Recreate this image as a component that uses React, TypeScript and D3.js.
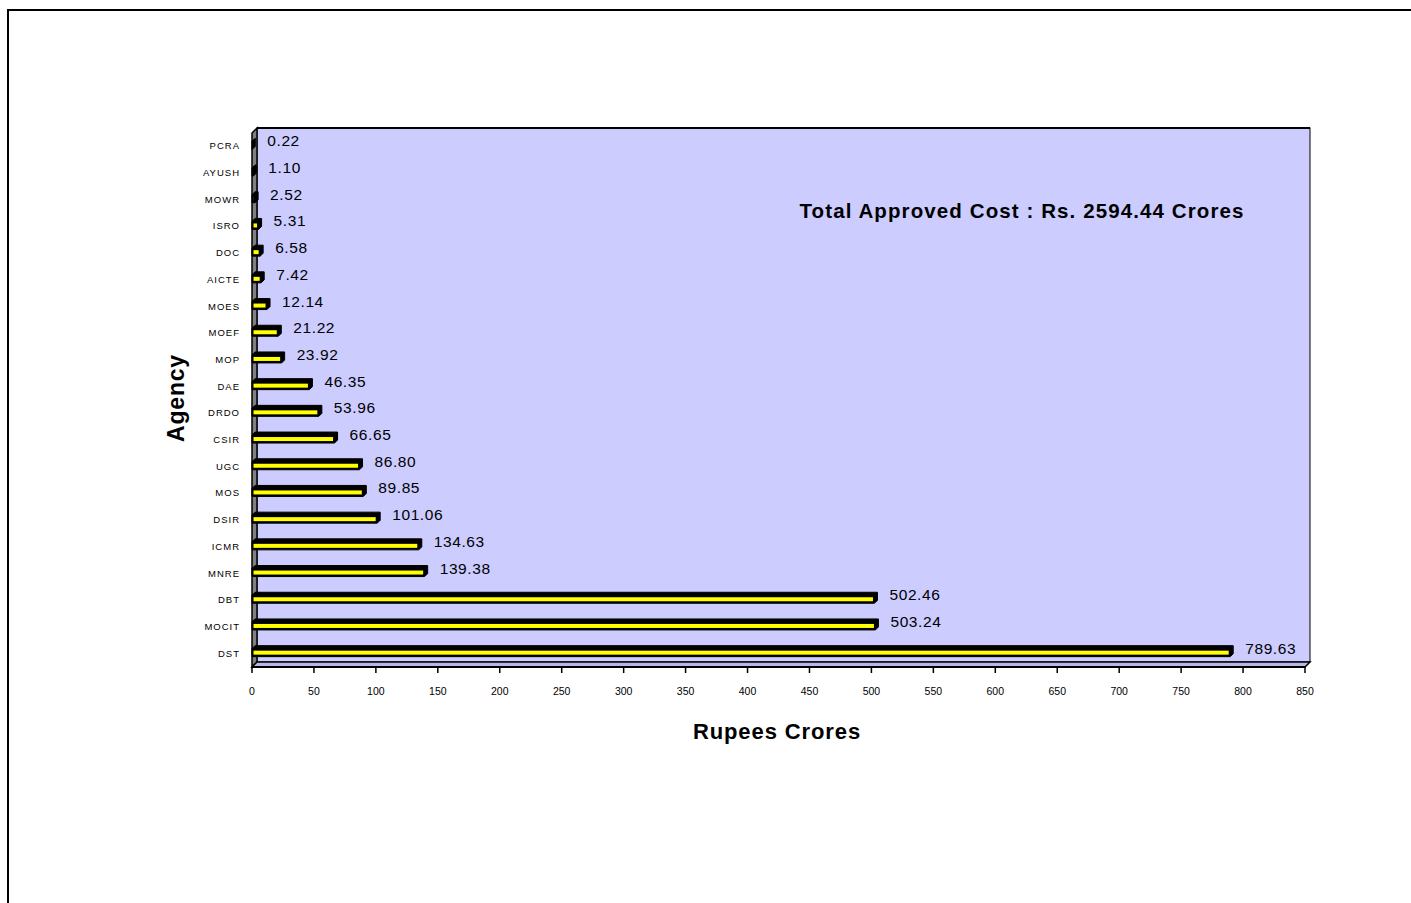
import React from "react";
import * as d3 from "d3";

const categories = ["PCRA","AYUSH","MOWR","ISRO","DOC","AICTE","MOES","MOEF","MOP","DAE","DRDO","CSIR","UGC","MOS","DSIR","ICMR","MNRE","DBT","MOCIT","DST"];
const values = [0.22,1.10,2.52,5.31,6.58,7.42,12.14,21.22,23.92,46.35,53.96,66.65,86.80,89.85,101.06,134.63,139.38,502.46,503.24,789.63];
const valueLabels = ["0.22","1.10","2.52","5.31","6.58","7.42","12.14","21.22","23.92","46.35","53.96","66.65","86.80","89.85","101.06","134.63","139.38","502.46","503.24","789.63"];
const xTicks = d3.range(0, 851, 50);
const title = "Total Approved Cost : Rs. 2594.44 Crores";
const xTitle = "Rupees Crores";
const yTitle = "Agency";

export default function App() {
  const W = 1411, H = 903;
  const x0 = 252, x1 = 1305, yTop = 133, yBot = 667, dep = 5;
  const x = d3.scaleLinear().domain([0, 850]).range([x0, x1]);
  const y = d3.scaleBand<string>().domain(categories).range([yTop - 1, yBot - 1]);
  const font = "Arial, 'Liberation Sans', sans-serif";
  return (
    <svg width={W} height={H} style={{ position: "absolute", left: 0, top: 0, background: "#fff" }} fontFamily={font}>
      {/* page frame */}
      <path d={`M8,${H} L8,10 L${W},10`} fill="none" stroke="#000" strokeWidth={2} />
      {/* back wall */}
      <rect x={x0 + dep} y={yTop - dep} width={x1 - x0} height={yBot - yTop} fill="#CCCCFF" stroke="#000" strokeWidth={1} />
      <line x1={x0 + dep} x2={x1 + dep} y1={yTop - dep} y2={yTop - dep} stroke="#000" strokeWidth={2} />
      {/* left wall */}
      <polygon points={`${x0},${yTop} ${x0 + dep},${yTop - dep} ${x0 + dep},${yBot - dep} ${x0},${yBot}`} fill="#808080" stroke="#000" strokeWidth={1.5} />
      {/* floor */}
      <polygon points={`${x0},${yBot} ${x0 + dep},${yBot - dep} ${x1 + dep},${yBot - dep} ${x1},${yBot}`} fill="#B8B8E8" stroke="#000" strokeWidth={1.5} />
      <line x1={x0} x2={x1} y1={yBot} y2={yBot} stroke="#000" strokeWidth={2} />
      {/* ticks */}
      {xTicks.map(t => (
        <g key={t}>
          <line x1={x(t)} x2={x(t)} y1={yBot} y2={yBot + 6} stroke="#000" strokeWidth={1.5} />
          <text x={x(t)} y={695} fontSize={10.5} textAnchor="middle" fill="#000">{t}</text>
        </g>
      ))}
      {/* bars */}
      {categories.map((c, i) => {
        const cy = (y(c) as number) + y.bandwidth() / 2;
        const xe = x(values[i]);
        const h = 8, d = 3;
        const top = cy - h / 2, bot = cy + h / 2;
        const pts = `${x0},${top} ${x0 + d},${top - d} ${xe + d},${top - d} ${xe + d},${bot - d} ${xe},${bot} ${x0},${bot}`;
        const iw = xe - x0 - 3;
        return (
          <g key={c}>
            <polygon points={pts} fill="#000" stroke="#000" strokeWidth={1} strokeLinejoin="round" />
            {iw > 0 && <rect x={x0 + 1.5} y={top + 2} width={iw} height={h - 4} fill="#FFFF00" />}
            <text x={x0 - 12} y={cy + 4} fontSize={9.5} letterSpacing={1} textAnchor="end" fill="#000">{c}</text>
            <text x={xe + 15} y={cy + 1} fontSize={15.5} letterSpacing={0.6} fill="#000">{valueLabels[i]}</text>
          </g>
        );
      })}
      <text x={1022} y={218} fontSize={20.5} fontWeight="bold" letterSpacing={1.1} textAnchor="middle" fill="#000">{title}</text>
      <text x={777} y={739} fontSize={22} fontWeight="bold" letterSpacing={0.9} textAnchor="middle" fill="#000">{xTitle}</text>
      <text transform={`translate(184,398) rotate(-90)`} fontSize={23} fontWeight="bold" letterSpacing={0.8} textAnchor="middle" fill="#000">{yTitle}</text>
    </svg>
  );
}
